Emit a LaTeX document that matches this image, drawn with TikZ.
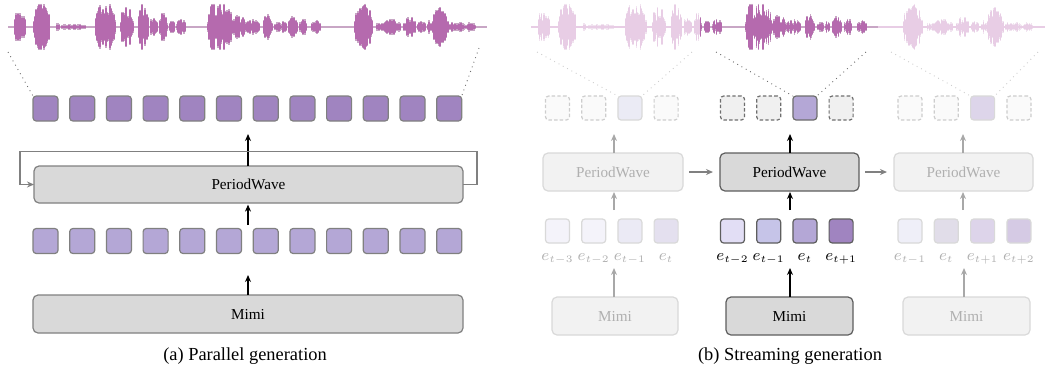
\documentclass[tikz,border=0pt]{standalone}
\usepackage{fontspec}
\setmainfont{Liberation Serif}
\usetikzlibrary{arrows.meta}

\definecolor{wavedark}{HTML}{B56AAE}
\definecolor{waveedge}{HTML}{C8A6C5}
\definecolor{wavefade}{HTML}{E8CDE5}
\definecolor{wavefadeedge}{HTML}{F1E4F0}
\definecolor{tokdark}{HTML}{A084C0}
\definecolor{tokmid}{HTML}{B4A7D6}
\definecolor{boxfill}{HTML}{D9D9D9}
\definecolor{boxline}{HTML}{808080}
\definecolor{activeline}{HTML}{5E5E5E}
\definecolor{fadefill}{HTML}{F2F2F2}
\definecolor{fadeline}{HTML}{D9D9D9}
\definecolor{fadetext}{HTML}{B0B0B0}
\definecolor{fadearrow}{HTML}{A8A8A8}
\definecolor{ghostfill}{HTML}{FAFAFA}
\definecolor{ghostline}{HTML}{CDCDCD}
\definecolor{slotfill}{HTML}{F0F0F0}
\definecolor{slotline}{HTML}{6E6E6E}

% bursts of the speech signal: first x / last x / peak half-height
\def\burstlist{15/25/14, 34/49/22, 57/59/5, 62/85/2, 96/115/22, 121/133/17,
  139/148/20, 151/157/10, 160/167/11, 170/174/6, 177/185/6, 208/232/22,
  233/245/10, 246/259/6, 264/272/10, 275/280/5, 282/286/4, 289/297/8,
  300/306/6, 312/320/5, 355/372/22, 377/380/3, 381/400/6, 404/415/8,
  418/425/5, 428/432/5, 433/448/18, 450/465/4, 467/475/3}

\begin{document}
\begin{tikzpicture}[x=0.5pt, y=-0.5pt,
  every node/.style={inner sep=0pt, outer sep=0pt},
  arr/.style={-{Stealth[length=3.5pt,width=3pt]}, line width=0.6pt},
  blockbox/.style={rounded corners=2.5pt, line width=0.6pt, minimum height=18.5pt,
    font=\fontsize{7.6}{9}\selectfont},
  mainbox/.style={blockbox, draw=boxline, fill=boxfill},
  activebox/.style={blockbox, draw=activeline, fill=boxfill},
  fadebox/.style={blockbox, draw=fadeline, fill=fadefill, text=fadetext},
  tok/.style={rounded corners=1.6pt, line width=0.6pt, minimum size=12.5pt},
  ctok/.style={rounded corners=1.6pt, line width=0.6pt, minimum size=12pt},
  slot/.style={ctok, dash pattern=on 1.7pt off 1.1pt},
  dotline/.style={dotted, line width=0.45pt},
  lab/.style={anchor=base, font=\fontsize{7.6}{9}\selectfont},
  captext/.style={font=\fontsize{9.2}{11}\selectfont},
]
\useasboundingbox (0,0) rectangle (1056,377);

% ---------------- waveform, panel (a) ----------------
\draw[waveedge, line width=0.9pt] (8,27) -- (487,27);
\foreach \pass/\grow/\col in {0/1.3/waveedge, 1/0/wavedark} {
  \pgfmathsetseed{11}
  \foreach \a/\b/\m in \burstlist {
    \foreach \x in {\a,...,\b} {
      \pgfmathsetmacro\h{min(22,\m*1.25*(sin(180*(\x-\a+0.5)/(\b-\a+1)))^0.35*(0.3+0.7*rnd))+\grow}
      \draw[\col, line width=0.6pt] (\x,27-\h) -- (\x,27+\h);
    }
  }
}

% ---------------- waveform, panel (b) ----------------
\draw[wavefade, line width=0.9pt] (531,27) -- (700,27);
\draw[waveedge, line width=0.9pt] (700,27) -- (878,27);
\draw[wavefade, line width=0.9pt] (878,27) -- (1045,27);
\foreach \pass/\grow in {0/1.3, 1/0} {
  \pgfmathsetseed{11}
  \foreach \a/\b/\m in \burstlist {
    \foreach \x in {\a,...,\b} {
      \pgfmathsetmacro\h{min(22,\m*1.25*(sin(180*(\x-\a+0.5)/(\b-\a+1)))^0.35*(0.3+0.7*rnd))+\grow}
      \pgfmathsetmacro\X{531+(\x-8)*1.074}
      \pgfmathtruncatemacro\isdark{and(\x>=166,\x<=331)}
      \ifnum\pass=0
        \ifnum\isdark=1 \def\wc{waveedge}\else\def\wc{wavefadeedge}\fi
      \else
        \ifnum\isdark=1 \def\wc{wavedark}\else\def\wc{wavefade}\fi
      \fi
      \draw[\wc, line width=0.62pt] (\X,27-\h) -- (\X,27+\h);
    }
  }
}

% ---------------- panel (a): parallel generation ----------------
\foreach \i in {0,...,11} {
  \node[tok, draw=boxline, fill=tokdark] (pt\i) at ({45.5+36.7*\i},108.5) {};
  \node[tok, draw=boxline, fill=tokmid] (pb\i) at ({45.5+36.7*\i},241) {};
}
\node[mainbox, minimum width=214.5pt] (ppw) at (248.5,184.5) {PeriodWave};
\node[mainbox, minimum width=215pt, minimum height=19pt] (pmimi) at (248,314) {Mimi};

\coordinate (pin) at (248,275);
\coordinate (pfeat) at (248,225);
\coordinate (pout) at (248,134);
\draw[arr] (pmimi.north -| pin) -- (pin);
\draw[arr, shorten >=0.8pt] (pfeat) -- (ppw.south -| pfeat);
\draw[arr] (ppw.north -| pout) -- (pout);
\draw[arr, draw=boxline] (ppw.east) -- ++(14,0) -- ++(0,-33) -- ++(-457,0) -- ++(0,33) -- (ppw.west);

\coordinate (pwl) at (8,52);
\coordinate (pwr) at (479,48);
\draw[dotline, draw=slotline] (pwl) -- (pt0.north west);
\draw[dotline, draw=slotline] (pwr) -- (pt11.north east);

\node[captext] (capa) at (245,356) {(a) Parallel generation};

% ---------------- panel (b): streaming generation ----------------
% chunk 1 (past)
\node[fadebox, minimum width=70pt, minimum height=19pt] (pw1) at (613,172) {PeriodWave};
\node[fadebox, minimum width=63pt, minimum height=19pt] (mm1) at (615,316) {Mimi};
\foreach \i/\c/\e in {0/F4F3FA/{e_{t-3}}, 1/F4F3FA/{e_{t-2}}, 2/EBEAF5/{e_{t-1}}, 3/E4E0EF/{e_t}} {
  \definecolor{cellc}{HTML}{\c}
  \node[ctok, draw=fadeline, fill=cellc] (ea\i) at ({557.5+36.2*\i},231) {};
  \node[lab, text=fadetext] (la\i) at ({557.5+36.2*\i},260) {$\e$};
}
\foreach \i in {0,1,3} {
  \node[slot, draw=ghostline, fill=ghostfill] (oa\i) at ({557.5+36.2*\i},108) {};
}
\node[ctok, draw=fadeline, fill={rgb,255:red,235;green,235;blue,245}] (oa2) at ({557.5+36.2*2},108) {};
\coordinate (ia1) at (614,268);
\coordinate (fa1) at (614,210);
\coordinate (ta1) at (614,134);
\draw[arr, fadearrow] (mm1.north -| ia1) -- (ia1);
\draw[arr, fadearrow, shorten >=0.5pt] (fa1) -- (pw1.south -| fa1);
\draw[arr, fadearrow] (pw1.north -| ta1) -- (ta1);
\coordinate (wa1) at (537,52);
\coordinate (wb1) at (692,52);
\draw[dotline, draw=ghostline] (wa1) -- (oa2.north west);
\draw[dotline, draw=ghostline] (wb1) -- (oa2.north east);

% chunk 2 (current)
\node[activebox, minimum width=69.5pt, minimum height=19pt] (pw2) at (789.5,172) {PeriodWave};
\node[activebox, minimum width=63.5pt, minimum height=19pt] (mm2) at (789.5,316) {Mimi};
\foreach \i/\c/\e in {0/E2DEF5/{e_{t-2}}, 1/C6C4E8/{e_{t-1}}, 2/B4A7D6/{e_t}, 3/A084C0/{e_{t+1}}} {
  \definecolor{cellc}{HTML}{\c}
  \node[ctok, draw=activeline, fill=cellc] (eb\i) at ({732.5+36.2*\i},231) {};
  \node[lab] (lb\i) at ({732.5+36.2*\i},260) {$\e$};
}
\foreach \i in {0,1,3} {
  \node[slot, draw=slotline, fill=slotfill] (ob\i) at ({732.5+36.2*\i},108) {};
}
\node[ctok, draw=slotline, fill=tokmid] (ob2) at ({732.5+36.2*2},108) {};
\coordinate (ib1) at (790,268);
\coordinate (fb1) at (790,210);
\coordinate (tb1) at (790,134);
\draw[arr] (mm2.north -| ib1) -- (ib1);
\draw[arr, shorten >=0.5pt] (fb1) -- (pw2.south -| fb1);
\draw[arr] (pw2.north -| tb1) -- (tb1);
\coordinate (wa2) at (716,52);
\coordinate (wb2) at (866,52);
\draw[dotline, draw=slotline] (wa2) -- (ob2.north west);
\draw[dotline, draw=slotline] (wb2) -- (ob2.north east);

% chunk 3 (next)
\node[fadebox, minimum width=69.5pt, minimum height=19pt] (pw3) at (963.5,172) {PeriodWave};
\node[fadebox, minimum width=63.5pt, minimum height=19pt] (mm3) at (966.5,316) {Mimi};
\foreach \i/\c/\e in {0/EFEFF8/{e_{t-1}}, 1/E1DDE9/{e_t}, 2/DDD4EA/{e_{t+1}}, 3/D5CAE4/{e_{t+2}}} {
  \definecolor{cellc}{HTML}{\c}
  \node[ctok, draw=fadeline, fill=cellc] (ec\i) at ({910+36.3*\i},231) {};
  \node[lab, text=fadetext] (lc\i) at ({910+36.3*\i},260) {$\e$};
}
\foreach \i in {0,1,3} {
  \node[slot, draw=ghostline, fill=ghostfill] (oc\i) at ({910+36.3*\i},108) {};
}
\node[ctok, draw=fadeline, fill={rgb,255:red,221;green,213;blue,234}] (oc2) at ({910+36.3*2},108) {};
\coordinate (ic1) at (964,268);
\coordinate (fc1) at (963,210);
\coordinate (tc1) at (963,134);
\draw[arr, fadearrow] (mm3.north -| ic1) -- (ic1);
\draw[arr, fadearrow, shorten >=0.5pt] (fc1) -- (pw3.south -| fc1);
\draw[arr, fadearrow] (pw3.north -| tc1) -- (tc1);
\coordinate (wa3) at (891,52);
\coordinate (wb3) at (1038,52);
\draw[dotline, draw=ghostline] (wa3) -- (oc2.north west);
\draw[dotline, draw=ghostline] (wb3) -- (oc2.north east);

% state passed from chunk to chunk
\draw[arr, draw=boxline, shorten <=3pt, shorten >=3.5pt] (pw1.east) -- (pw2.west);
\draw[arr, draw=boxline, shorten <=3pt, shorten >=3.5pt] (pw2.east) -- (pw3.west);

\node[captext] (capb) at (790,356) {(b) Streaming generation};
\end{tikzpicture}
\end{document}
